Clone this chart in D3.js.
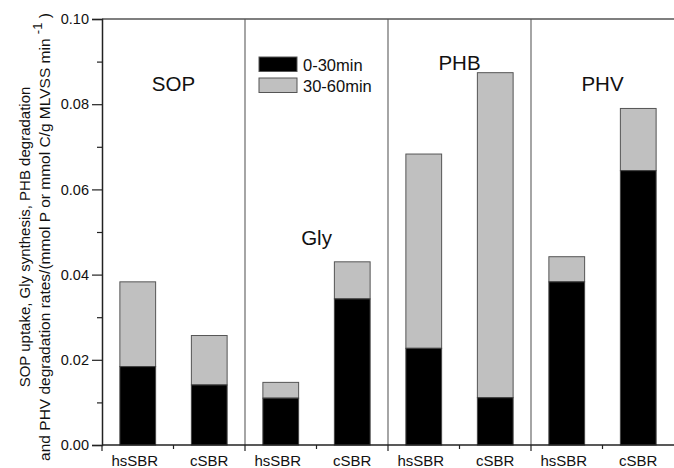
<!DOCTYPE html>
<html>
<head>
<meta charset="utf-8">
<script src="https://cdn.jsdelivr.net/npm/d3@7"></script>
<style>
  html, body { margin: 0; padding: 0; background: #fff; }
  svg { display: block; font-family: Arial, "Liberation Sans", Helvetica, sans-serif; }
</style>
</head>
<body>
<svg id="chart" width="674" height="468"></svg>
<script>
// ---- data ----
const groups = ["SOP", "Gly", "PHB", "PHV"];
const reactors = ["hsSBR", "cSBR"];
const first30 = [0.0184, 0.0141, 0.0110, 0.0343, 0.0227, 0.0111, 0.0383, 0.0644]; // 0-30min
const totals  = [0.0383, 0.0257, 0.0147, 0.0430, 0.0683, 0.0874, 0.0442, 0.0790]; // top of 30-60min
const seriesNames = ["0-30min", "30-60min"];
const yTicks = [0.00, 0.02, 0.04, 0.06, 0.08, 0.10];
const groupLabelY = [0.083, 0.047, 0.088, 0.083];

const svg = d3.select("#chart");
const M = { left: 102, right: 674, top: 19, bottom: 445 };

const keys = [];
groups.forEach(g => reactors.forEach(r => keys.push(g + "|" + r)));

const x = d3.scaleBand().domain(keys).range([M.left, M.right])
  .paddingInner(0.5).paddingOuter(0.25);
const y = d3.scaleLinear().domain([0, 0.10]).range([M.bottom, M.top]);

const step = x.step();
const rows = keys.map((k, i) => ({ key: k, a: first30[i], t: totals[i] }));

// group separators
const sepX = groups.slice(1).map((g, i) => x(g + "|hsSBR") - (step - x.bandwidth()) / 2);
svg.append("g").selectAll("line").data(sepX).join("line")
  .attr("x1", d => d).attr("x2", d => d)
  .attr("y1", M.top).attr("y2", M.bottom)
  .attr("stroke", "#6a6a6a").attr("stroke-width", 1.2);

// top border
svg.append("line").attr("x1", M.left).attr("x2", M.right)
  .attr("y1", M.top).attr("y2", M.top)
  .attr("stroke", "#555").attr("stroke-width", 1.5);

// bars
const bars = svg.append("g");
bars.selectAll("rect.late").data(rows).join("rect").attr("class", "late")
  .attr("x", d => x(d.key)).attr("width", x.bandwidth())
  .attr("y", d => y(d.t)).attr("height", d => y(d.a) - y(d.t))
  .attr("fill", "#c0c0c0").attr("stroke", "#555").attr("stroke-width", 1);
bars.selectAll("rect.early").data(rows).join("rect").attr("class", "early")
  .attr("x", d => x(d.key)).attr("width", x.bandwidth())
  .attr("y", d => y(d.a)).attr("height", d => y(0) - y(d.a))
  .attr("fill", "#000").attr("stroke", "#444").attr("stroke-width", 1);

// y axis
const yAxis = d3.axisLeft(y).tickValues(yTicks).tickFormat(d3.format(".2f")).tickSize(10).tickPadding(3);
const gy = svg.append("g").attr("transform", `translate(${M.left},0)`).call(yAxis);
gy.select(".domain").attr("stroke", "#222").attr("stroke-width", 1.5);
gy.selectAll(".tick line").attr("stroke", "#222").attr("stroke-width", 1.2);
gy.selectAll(".tick text").attr("font-size", 14.5).attr("fill", "#111");
const minor = d3.range(0.01, 0.1, 0.02);
svg.append("g").attr("transform", `translate(${M.left},0)`)
  .call(d3.axisLeft(y).tickValues(minor).tickSize(5).tickFormat(""))
  .call(g => g.select(".domain").remove())
  .selectAll(".tick line").attr("stroke", "#222").attr("stroke-width", 1.2);

// x axis
const xb = svg.append("g").attr("transform", `translate(0,${M.bottom})`);
xb.append("line").attr("x1", M.left).attr("x2", M.right).attr("y1", 0).attr("y2", 0)
  .attr("stroke", "#222").attr("stroke-width", 1.5);
const boundaries = keys.map(k => x(k) - (step - x.bandwidth()) / 2);
xb.selectAll("line.tk").data(boundaries).join("line").attr("class", "tk")
  .attr("x1", d => d).attr("x2", d => d).attr("y1", 0).attr("y2", (d, i) => i % 2 === 0 ? 6 : 4)
  .attr("stroke", "#222").attr("stroke-width", 1.2);
xb.selectAll("text").data(keys).join("text")
  .attr("x", d => x(d) + x.bandwidth() / 2 - (d.endsWith("hsSBR") ? 3 : 0))
  .attr("y", 21).attr("text-anchor", "middle").attr("font-size", 15).attr("fill", "#111")
  .text(d => d.split("|")[1]);

// group labels
svg.append("g").selectAll("text").data(groups).join("text")
  .attr("x", g => (x(g + "|hsSBR") + x(g + "|cSBR") + x.bandwidth()) / 2)
  .attr("y", (g, i) => y(groupLabelY[i]))
  .attr("text-anchor", "middle").attr("font-size", 20.5).attr("fill", "#111")
  .text(g => g);

// legend
const leg = svg.append("g").attr("transform", "translate(259,57)");
const legFill = ["#000", "#c0c0c0"];
seriesNames.forEach((s, i) => {
  leg.append("rect").attr("x", 0).attr("y", i * 21).attr("width", 38).attr("height", 14.5)
    .attr("fill", legFill[i]).attr("stroke", "#555").attr("stroke-width", 1);
  leg.append("text").attr("x", 44).attr("y", i * 21 + 13.5).attr("font-size", 16.5).attr("fill", "#111").text(s);
});

// y label
const cy = 237;
svg.append("text").attr("transform", `translate(30,${cy}) rotate(-90)`)
  .attr("text-anchor", "middle").attr("font-size", 15).attr("fill", "#111")
  .text("SOP uptake, Gly synthesis, PHB degradation");
const l2 = svg.append("text").attr("transform", `translate(50,${cy}) rotate(-90)`)
  .attr("text-anchor", "middle").attr("font-size", 15.5).attr("fill", "#111");
l2.append("tspan").text("and PHV degradation rates/(mmol P or mmol C/g MLVSS min ");
l2.append("tspan").attr("dy", -8).attr("font-size", 13).text("-1");
l2.append("tspan").attr("dy", 8).text(" )");
</script>
</body>
</html>
